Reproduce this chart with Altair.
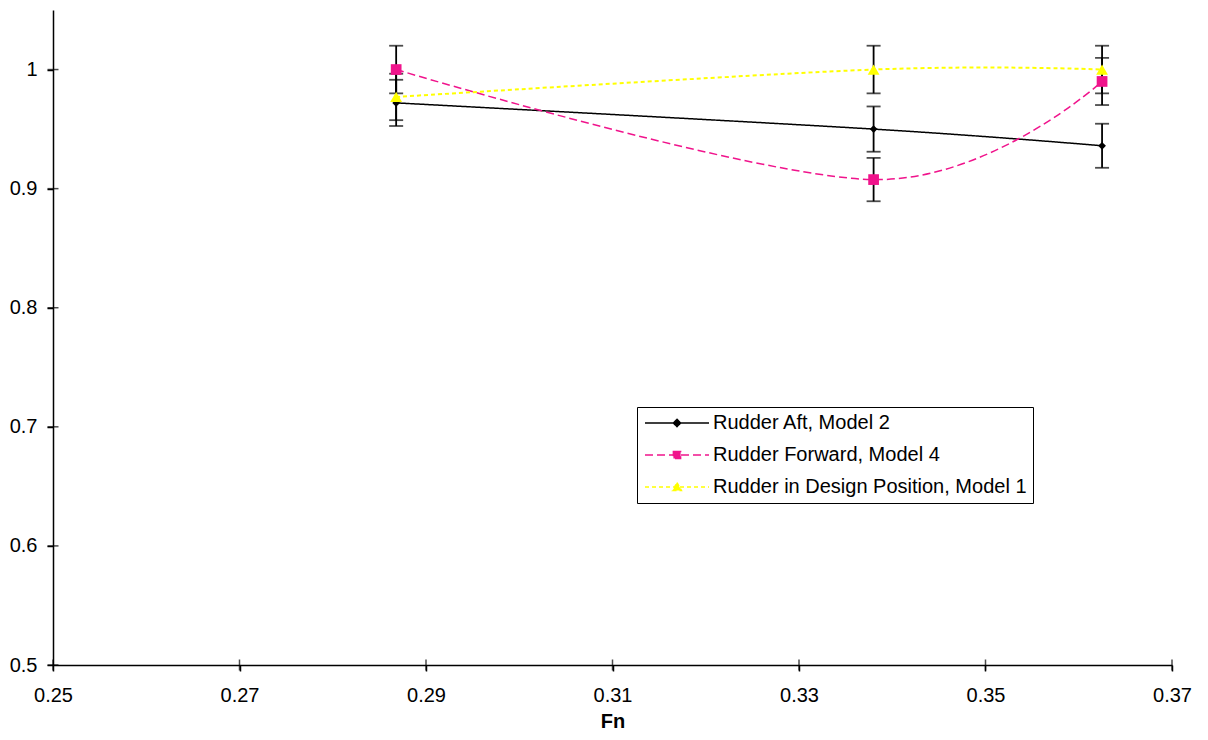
import altair as alt
import pandas as pd

# ---- data ----
series_names = [
    "Rudder Aft, Model 2",
    "Rudder Forward, Model 4",
    "Rudder in Design Position, Model 1",
]
fn = [0.2868, 0.3380, 0.3625]
aft = [0.972, 0.950, 0.936]
aft_err = [0.0194, 0.0190, 0.0185]
fwd = [1.000, 0.9076, 0.990]
fwd_err = [0.0200, 0.0182, 0.0198]
des = [0.977, 1.000, 1.000]
des_err = [0.0195, 0.0200, 0.0200]

x_ticks = [0.25, 0.27, 0.29, 0.31, 0.33, 0.35, 0.37]
y_ticks = [0.5, 0.6, 0.7, 0.8, 0.9, 1.0]
x_min, x_max = 0.25, 0.37
y_min, y_max = 0.5, 1.05

# ---- styles ----
colors = ["#000000", "#F0148C", "#FFFF00"]
dashes = [[1, 0], [8, 4], [4, 3]]
line_widths = [1.5, 1.5, 2]
marker_shapes = ["diamond", "square", "triangle-up"]
marker_sizes = [60, 115, 140]
legend_paths = [
    "M-1,0H7M3,-0.45L3.45,0L3,0.45L2.55,0Z",
    "M-1,0H7M2.55,-0.45H3.45V0.45H2.55Z",
    "M-1,0H7M3,-0.55L3.55,0.45H2.45Z",
]
FONT = "Liberation Sans"

rows = []
for name, vals, errs in zip(series_names, [aft, fwd, des], [aft_err, fwd_err, des_err]):
    for xv, v, e in zip(fn, vals, errs):
        rows.append({"series": name, "fn": xv, "value": v, "lo": v - e, "hi": v + e})
df = pd.DataFrame(rows)

xt_df = pd.DataFrame({"fn": x_ticks, "value": [y_min] * len(x_ticks)})
yt_df = pd.DataFrame({"fn": [x_min] * len(y_ticks), "value": y_ticks})

x_scale = alt.Scale(domain=[x_min, x_max], nice=False, zero=False)
y_scale = alt.Scale(domain=[y_min, y_max], nice=False, zero=False)
x_axis = alt.Axis(values=x_ticks, format=".2f", title="Fn", labelPadding=14,
                  labelFlush=False,
                  titleFont=FONT, titleFontSize=20, titleFontWeight="bold",
                  titleY=62, titleBaseline="alphabetic", titleColor="black")
y_axis = alt.Axis(values=y_ticks, format="~g", title=None, labelPadding=10,
                  labelFlush=False)


def X(field="fn"):
    return alt.X(f"{field}:Q", scale=x_scale, axis=x_axis)


def Y(field):
    return alt.Y(f"{field}:Q", scale=y_scale, axis=y_axis)


base = alt.Chart(df)

# invisible layer that only carries the legend (first, so its legend settings win)
leg = alt.Legend(title=None, orient="none", legendX=584, legendY=397,
                 symbolOpacity=1,
                 labelExpr="datum.label + '\u00a0\u00a0\u00a0'")
legend_layer = base.mark_point(filled=True, opacity=0, strokeWidth=1.5).encode(
    x=X(), y=Y("value"),
    color=alt.Color("series:N", scale=alt.Scale(domain=series_names, range=colors), legend=leg),
    stroke=alt.Stroke("series:N", scale=alt.Scale(domain=series_names, range=colors), legend=leg),
    strokeDash=alt.StrokeDash("series:N", scale=alt.Scale(domain=series_names, range=dashes), legend=leg),
    shape=alt.Shape("series:N", scale=alt.Scale(domain=series_names, range=legend_paths), legend=leg),
)

# tick marks crossing the axes (Excel style), from the tick arrays
x_cross = alt.Chart(xt_df).mark_tick(color="black", orient="vertical", size=11, thickness=1.5).encode(
    x=X(), y=Y("value"))
y_cross = alt.Chart(yt_df).mark_tick(color="black", orient="horizontal", size=11, thickness=1.5).encode(
    x=X(), y=Y("value"))

lines = []
for name, col, dsh, lw in zip(series_names, colors, dashes, line_widths):
    lines.append(
        base.transform_filter(alt.datum.series == name)
        .mark_line(interpolate="cardinal", color=col, strokeDash=dsh, strokeWidth=lw)
        .encode(x=X(), y=Y("value"))
    )

rules = base.mark_rule(color="black", strokeWidth=1.8).encode(
    x=X(), y=Y("lo"), y2="hi:Q"
)
caps_lo = base.mark_tick(color="black", orient="horizontal", size=14, thickness=1.8).encode(
    x=X(), y=Y("lo")
)
caps_hi = base.mark_tick(color="black", orient="horizontal", size=14, thickness=1.8).encode(
    x=X(), y=Y("hi")
)

markers = []
for name, shp, sz, col in zip(series_names, marker_shapes, marker_sizes, colors):
    markers.append(
        base.transform_filter(alt.datum.series == name)
        .mark_point(shape=shp, filled=True, size=sz, opacity=1, color=col)
        .encode(x=X(), y=Y("value"))
    )

chart = alt.layer(legend_layer, x_cross, y_cross, *lines, rules, caps_lo, caps_hi, *markers).properties(
    width=1119, height=655,
    autosize=alt.AutoSizeParams(type="none"),
    padding={"left": 45, "top": 2, "right": 28, "bottom": 67},
    background="white",
).configure_view(stroke="transparent").configure_axis(
    labelFont=FONT, labelFontSize=20, labelColor="black",
    domainColor="black", domainWidth=1.5, tickColor="black", tickWidth=1.5,
    tickSize=6, grid=False,
).configure_legend(
    labelFont=FONT, labelFontSize=20, labelColor="black", labelLimit=600,
    symbolSize=256, symbolStrokeWidth=1.5, symbolOpacity=1,
    padding=6, rowPadding=12, labelOffset=50,
    fillColor="white", strokeColor="black", cornerRadius=0,
)

chart.save("out.html", embed_options={"renderer": "svg", "actions": False})
